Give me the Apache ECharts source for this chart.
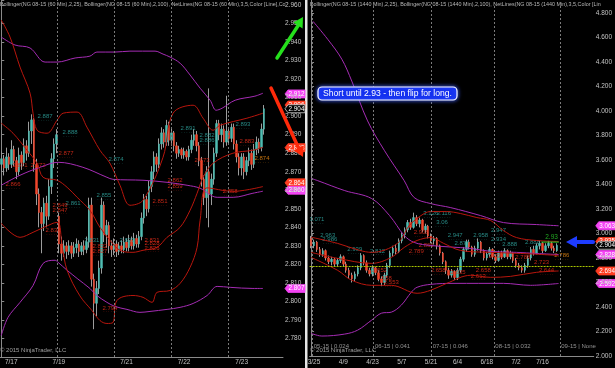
<!DOCTYPE html>
<html><head><meta charset="utf-8">
<script src="https://cdn.jsdelivr.net/npm/echarts/dist/echarts.min.js"></script>
<style>html,body{margin:0;padding:0;background:#000;}#c{width:615px;height:368px;}</style>
</head><body><div id="c"></div>
<script>
// ---------------- LEFT PANEL (60 min) ----------------
const leftTickIdx = [4, 23, 50, 73, 96];
const leftTickLabels = ['7/17', '7/19', '7/21', '7/22', '7/23'];
const leftSlots = 113;
const leftSessionBreaks = [22.3, 45.0, 67.8, 90.6];
// [open, close, low, high]
const leftOHLC = [
[2.874,2.877,2.870,2.881],[2.877,2.872,2.868,2.879],[2.872,2.878,2.870,2.883],[2.878,2.874,2.871,2.880],
[2.874,2.882,2.872,2.887],[2.882,2.876,2.873,2.884],[2.876,2.870,2.866,2.878],[2.870,2.879,2.868,2.883],
[2.879,2.875,2.871,2.881],[2.875,2.884,2.873,2.888],[2.884,2.880,2.876,2.887],[2.880,2.892,2.878,2.897],
[2.892,2.898,2.885,2.901],[2.898,2.874,2.870,2.899],[2.874,2.858,2.852,2.877],[2.858,2.848,2.840,2.861],
[2.848,2.842,2.826,2.851],[2.842,2.853,2.838,2.856],[2.853,2.846,2.840,2.857],[2.846,2.862,2.844,2.866],
[2.862,2.877,2.858,2.880],[2.877,2.885,2.872,2.888],[2.885,2.890,2.880,2.893],[2.846,2.831,2.826,2.848],
[2.831,2.826,2.822,2.835],[2.826,2.830,2.824,2.833],[2.830,2.827,2.823,2.832],[2.827,2.830,2.825,2.833],
[2.830,2.826,2.823,2.832],[2.826,2.829,2.824,2.832],[2.829,2.831,2.826,2.834],[2.831,2.827,2.824,2.833],
[2.827,2.830,2.825,2.832],[2.830,2.828,2.825,2.833],[2.828,2.832,2.826,2.835],[2.832,2.852,2.829,2.856],
[2.852,2.812,2.808,2.856],[2.812,2.799,2.785,2.815],[2.799,2.807,2.792,2.811],[2.807,2.818,2.804,2.822],
[2.818,2.852,2.815,2.856],[2.852,2.836,2.832,2.854],[2.836,2.841,2.829,2.844],[2.841,2.830,2.826,2.843],
[2.830,2.828,2.824,2.833],[2.828,2.831,2.825,2.834],[2.831,2.827,2.824,2.833],[2.827,2.830,2.825,2.832],
[2.830,2.828,2.826,2.833],[2.828,2.832,2.826,2.835],[2.832,2.829,2.827,2.834],[2.829,2.833,2.827,2.836],
[2.833,2.830,2.828,2.835],[2.830,2.834,2.828,2.837],[2.834,2.831,2.829,2.836],[2.831,2.835,2.829,2.838],
[2.835,2.845,2.833,2.848],[2.845,2.855,2.842,2.858],[2.855,2.850,2.846,2.857],[2.850,2.862,2.848,2.865],
[2.862,2.870,2.859,2.873],[2.870,2.878,2.866,2.881],[2.878,2.874,2.870,2.880],[2.874,2.885,2.872,2.888],
[2.885,2.891,2.882,2.894],[2.891,2.886,2.883,2.893],[2.886,2.895,2.884,2.898],[2.895,2.887,2.884,2.897],
[2.887,2.891,2.884,2.894],[2.891,2.884,2.881,2.892],[2.884,2.880,2.877,2.886],[2.880,2.882,2.878,2.884],
[2.882,2.879,2.877,2.883],[2.879,2.881,2.877,2.883],[2.881,2.878,2.876,2.882],[2.878,2.882,2.876,2.884],
[2.882,2.887,2.880,2.890],[2.887,2.890,2.884,2.893],[2.890,2.884,2.881,2.892],[2.884,2.876,2.873,2.886],
[2.876,2.866,2.862,2.878],[2.866,2.856,2.852,2.868],[2.856,2.870,2.845,2.873],[2.870,2.858,2.840,2.915],
[2.858,2.866,2.852,2.869],[2.866,2.880,2.863,2.883],[2.880,2.896,2.878,2.898],[2.896,2.890,2.887,2.898],
[2.890,2.893,2.886,2.896],[2.893,2.886,2.883,2.895],[2.886,2.892,2.884,2.911],[2.892,2.888,2.885,2.894],
[2.888,2.894,2.886,2.896],[2.894,2.885,2.882,2.896],[2.885,2.878,2.875,2.887],[2.878,2.872,2.868,2.880],
[2.872,2.878,2.868,2.880],[2.878,2.870,2.866,2.880],[2.870,2.876,2.868,2.878],[2.876,2.880,2.873,2.883],
[2.880,2.874,2.871,2.882],[2.874,2.882,2.872,2.885],[2.882,2.886,2.879,2.889],[2.886,2.883,2.880,2.888],
[2.883,2.893,2.881,2.896],[2.893,2.904,2.890,2.906]
];
// Bollinger (2,100) - purple, [barIndex, value]
const leftBB100Upper = [[0,2.9427],[5.5,2.9384],[11.5,2.9368],[17.5,2.9292],[22.3,2.9292],[29.5,2.9314],[35.4,2.9324],[38.2,2.9346],[45.4,2.9346],[51.4,2.9351],[61.4,2.9351],[64.6,2.9335],[67.4,2.9319],[71.4,2.9286],[75.4,2.9222],[79.4,2.9151],[83.4,2.9086],[85.8,2.9032],[88.2,2.9043],[93.4,2.9086],[101.3,2.9108],[104.5,2.9124]];
const leftBB100Mid = [[0,2.8627],[7.5,2.8681],[15.5,2.8724],[22.7,2.8751],[32.6,2.8724],[42.2,2.867],[44.6,2.8659],[56.6,2.8654],[66.2,2.8643],[74.2,2.8627],[79.4,2.8611],[86.2,2.8562],[92.6,2.8562],[100.5,2.8584],[104.5,2.8595]];
const leftBB100Lower = [[0,2.7816],[2.7,2.7914],[7.5,2.7995],[12.7,2.8086],[16.7,2.8205],[21.5,2.8222],[22.7,2.8211],[26.3,2.8168],[30.3,2.8124],[35.4,2.807],[38.2,2.8032],[42.2,2.7995],[45.4,2.7973],[50.2,2.7957],[55.4,2.7941],[59.4,2.7946],[66.2,2.7957],[71.4,2.7968],[76.6,2.7989],[82.2,2.8032],[86.2,2.8081],[91.4,2.8076],[100.5,2.807],[104.5,2.807]];
// Bollinger (2,25) - dark red
const leftBB25Upper = [[0,2.9519],[3.5,2.9427],[7.5,2.9265],[11.5,2.9124],[12.7,2.9016],[14.3,2.8924],[18.3,2.8908],[22.3,2.8978],[24.7,2.9016],[30.3,2.9022],[34.2,2.8941],[39.4,2.8816],[43.4,2.8746],[47.4,2.8627],[51.4,2.8519],[56.6,2.8546],[64.6,2.8778],[68.6,2.9016],[76.6,2.9059],[80.6,2.8989],[84.6,2.8924],[87.4,2.8951],[98.1,2.8989],[104.5,2.9016]];
const leftBB25Mid = [[0,2.8962],[4.7,2.8908],[10.3,2.8816],[14.3,2.8746],[16.7,2.867],[22.3,2.8654],[26.3,2.8616],[30.3,2.8562],[35.4,2.8492],[39.4,2.84],[43.4,2.833],[47.4,2.8276],[52.6,2.8265],[56.6,2.8276],[62.2,2.8292],[66.2,2.8346],[71.4,2.84],[75.4,2.8492],[78.2,2.8584],[80.6,2.867],[84.6,2.8746],[92.5,2.88],[100.5,2.8816],[104.5,2.8832]];
const leftBB25Lower = [[0,2.8422],[7.5,2.8346],[12.7,2.8373],[20.7,2.8422],[22.7,2.8427],[24.3,2.8303],[26.3,2.8168],[31.4,2.803],[36.2,2.7951],[39.4,2.7897],[42.2,2.7881],[44.6,2.7886],[46.2,2.8005],[52.6,2.8032],[56.6,2.8022],[60.2,2.7995],[62.2,2.8049],[67.4,2.8059],[71.4,2.8097],[75.4,2.8184],[78.2,2.8292],[79.4,2.8438],[82.2,2.8613],[92.5,2.8594],[104.5,2.862]];
// NetLines value notes [barIndex, value, text, kind]
const leftNotes = [
[17.5,2.8989,'2.887','t'],[27.5,2.8903,'2.888','t'],[45.8,2.8757,'2.874','t'],[41.0,2.8562,'2.855','t'],
[28.7,2.8519,'2.861','t'],[74.6,2.8924,'2.891','t'],[82.2,2.8886,'2.882','t'],[82.2,2.8859,'2.886','t'],
[96.5,2.8946,'2.893','t'],[36.2,2.8324,'2.831','t'],[50.2,2.8324,'2.831','t'],
[25.9,2.8789,'2.877','r'],[7.5,2.8729,'2.871','r'],[14.7,2.8729,'2.872','r'],[4.7,2.8622,'2.866','r'],
[23.5,2.8508,'2.849','r'],[23.5,2.8486,'2.847','r'],[20.7,2.8373,'2.838','r'],[63.4,2.8530,'2.851','r'],
[69.4,2.8643,'2.862','r'],[69.4,2.8611,'2.859','r'],[80.2,2.8751,'2.873','r'],[98.1,2.8854,'2.883','r'],
[91.4,2.8584,'2.858','r'],[43.4,2.7957,'2.794','r'],[39.4,2.8287,'2.832','r'],[39.4,2.826,'2.827','r'],
[60.2,2.8324,'2.831','r'],[60.2,2.8303,'2.828','r'],[60.2,2.8281,'2.826','r'],
[104.1,2.8762,'2.874','o']
];
const leftBoxValues = [2.912, 2.906, 2.904, 2.883, 2.864, 2.860, 2.807];
const leftBoxKinds  = ['m', 'r', 'k', 'r', 'r', 'm', 'm'];

// ---------------- RIGHT PANEL (daily) ----------------
const rightDates = ['3/24','3/25','3/26','3/27','3/30','3/31','4/1','4/2','4/6','4/7','4/8','4/9','4/10','4/13','4/14','4/15','4/16','4/17','4/20','4/21','4/22','4/23','4/24','4/27','4/28','4/29','4/30','5/1','5/4','5/5','5/6','5/7','5/8','5/11','5/12','5/13','5/14','5/15','5/18','5/19','5/20','5/21','5/22','5/26','5/27','5/28','5/29','6/1','6/2','6/3','6/4','6/5','6/8','6/9','6/10','6/11','6/12','6/15','6/16','6/17','6/18','6/19','6/22','6/23','6/24','6/25','6/26','6/29','6/30','7/1','7/2','7/6','7/7','7/8','7/9','7/10','7/13','7/14','7/15','7/16','7/17','7/20','7/21','7/22','7/23'];
const rightTickLabels = ['3/25','4/9','4/23','5/7','5/21','6/4','6/18','7/2','7/16'];
const rightSlots = 97;
const rightOHLC = [
[2.96,2.90,2.88,2.98],[2.90,2.93,2.88,2.95],[2.93,2.87,2.85,2.94],[2.87,2.83,2.81,2.89],[2.83,2.86,2.81,2.88],
[2.86,2.80,2.78,2.87],[2.80,2.77,2.75,2.82],[2.77,2.79,2.74,2.81],[2.79,2.75,2.73,2.80],[2.75,2.78,2.73,2.80],
[2.78,2.81,2.76,2.83],[2.81,2.75,2.73,2.82],[2.75,2.70,2.68,2.77],[2.70,2.66,2.63,2.72],[2.66,2.63,2.60,2.68],
[2.63,2.67,2.61,2.69],[2.67,2.72,2.65,2.74],[2.72,2.82,2.70,2.84],[2.82,2.76,2.74,2.83],[2.76,2.70,2.68,2.78],
[2.70,2.67,2.65,2.72],[2.67,2.72,2.65,2.74],[2.72,2.68,2.66,2.73],[2.68,2.63,2.61,2.70],[2.63,2.60,2.57,2.65],
[2.60,2.66,2.58,2.68],[2.66,2.74,2.64,2.76],[2.74,2.84,2.72,2.86],[2.84,2.88,2.81,2.90],[2.88,2.85,2.83,2.91],
[2.85,2.94,2.84,2.96],[2.94,2.99,2.92,3.01],[2.99,3.03,2.96,3.05],[3.03,3.09,3.01,3.11],[3.09,3.05,3.03,3.12],
[3.05,3.13,3.04,3.17],[3.13,3.08,3.06,3.15],[3.08,3.11,3.05,3.13],[3.11,3.03,3.01,3.12],[3.03,3.06,3.00,3.08],
[3.06,2.98,2.96,3.07],[2.98,2.94,2.92,3.00],[2.94,2.96,2.91,2.98],[2.96,2.90,2.87,2.97],[2.90,2.84,2.82,2.91],
[2.84,2.77,2.75,2.85],[2.77,2.70,2.67,2.78],[2.70,2.66,2.63,2.72],[2.66,2.69,2.64,2.71],[2.69,2.64,2.62,2.70],
[2.64,2.70,2.62,2.72],[2.70,2.79,2.68,2.81],[2.79,2.87,2.77,2.89],[2.87,2.93,2.85,2.95],[2.93,2.89,2.87,2.95],
[2.89,2.83,2.81,2.90],[2.83,2.88,2.81,2.90],[2.88,2.93,2.86,2.96],[2.93,2.86,2.84,2.94],[2.86,2.80,2.78,2.87],
[2.80,2.83,2.78,2.85],[2.83,2.87,2.81,2.89],[2.87,2.81,2.79,2.88],[2.81,2.78,2.76,2.83],[2.78,2.84,2.77,2.86],
[2.84,2.81,2.79,2.86],[2.81,2.86,2.80,2.88],[2.86,2.81,2.79,2.87],[2.81,2.84,2.79,2.86],[2.84,2.78,2.76,2.85],
[2.78,2.74,2.72,2.80],[2.74,2.72,2.70,2.76],[2.72,2.70,2.68,2.74],[2.70,2.74,2.68,2.76],[2.74,2.80,2.72,2.82],
[2.80,2.87,2.78,2.89],[2.87,2.84,2.82,2.90],[2.84,2.90,2.83,2.92],[2.90,2.92,2.87,2.94],[2.92,2.86,2.84,2.93],
[2.86,2.90,2.85,2.92],[2.90,2.92,2.88,2.94],[2.92,2.88,2.86,2.93],[2.88,2.86,2.84,2.90],[2.86,2.904,2.85,2.92]
];
const rightBB100Upper = [[0.65,4.732],[5.7,4.585],[10.5,4.423],[13.9,4.244],[19.3,3.919],[25.1,3.675],[31.8,3.431],[35.2,3.293],[40.9,3.244],[47.7,3.211],[57.9,3.146],[65.7,3.089],[76.9,3.073],[84.5,3.063]];
const rightBB100Mid = [[0,3.45],[2.3,3.431],[11.5,3.350],[20.7,3.285],[26.8,3.146],[31.8,2.984],[35.2,2.927],[40.9,2.902],[54.5,2.878],[61.3,2.854],[70.1,2.846],[76.9,2.837],[84.5,2.828]];
const rightBB100Lower = [[0,2.185],[0.65,2.179],[3.7,2.163],[11.5,2.179],[15.9,2.211],[20.7,2.293],[24.1,2.35],[27.4,2.358],[30.8,2.415],[34.2,2.520],[36.2,2.561],[40.9,2.585],[48.8,2.593],[65.7,2.593],[74.9,2.577],[84.5,2.592]];
const rightBB25Upper = [[0,2.97],[9.1,2.919],[16.6,2.862],[20.7,2.846],[29.5,2.919],[33.5,3.065],[38.6,3.163],[40.9,3.179],[46.3,3.179],[51.0,3.163],[56.6,3.130],[61.3,3.106],[65.7,3.024],[70.1,2.967],[76.9,2.943],[84.5,2.935]];
const rightBB25Mid = [[0,2.846],[9.1,2.797],[20.7,2.756],[27.4,2.805],[31.8,2.886],[36.2,2.943],[40.9,2.967],[45.3,2.919],[51.0,2.862],[61.3,2.846],[71.5,2.837],[84.5,2.821]];
const rightBB25Lower = [[0,2.805],[9.1,2.699],[13.9,2.618],[20.7,2.577],[27.4,2.577],[36.2,2.512],[40.9,2.537],[46.3,2.593],[54.5,2.659],[61.3,2.642],[68.1,2.650],[76.9,2.683],[84.5,2.694]];
const rightNotes = [
[2.0,3.106,'3.071','t'],[5.7,2.976,'2.963','t'],[6.4,2.943,'2.986','t'],[14.9,2.862,'2.939','t'],[22.7,2.846,'2.812','t'],
[40.9,3.154,'3.126','t'],[45.3,3.154,'3.116','t'],[44.7,3.081,'3.06','t'],[49.2,2.976,'2.947','t'],[51.5,2.911,'2.877','t'],
[57.9,2.976,'2.958','t'],[64.0,3.016,'2.947','t'],[64.0,2.943,'2.934','t'],[67.8,2.902,'2.888','t'],[75.6,2.919,'2.888','t'],
[37.6,3.000,'2.908','r'],[39.3,2.894,'2.865','r'],[35.9,2.846,'2.789','r'],[23.4,2.683,'2.652','r'],[25.0,2.618,'2.558','r'],
[27.4,2.585,'2.553','r'],[43.4,2.683,'2.658','r'],[50.2,2.667,'2.635','r'],[58.8,2.683,'2.658','r'],[57.1,2.642,'2.613','r'],
[78.7,2.756,'2.723','r'],[80.4,2.683,'2.644','r'],[63.2,2.805,'2.798','r'],[72.3,2.797,'2.788','r'],
[85.6,2.813,'2.786','o']
];
const rightBoxValues = [3.063, 2.935, 2.904, 2.828, 2.694, 2.592];
const rightBoxKinds  = ['m', 'r', 'k', 'm', 'r', 'm'];
const rightRolls = [0.4, 21.3, 41.0, 62.4, 84.9];
const rightRollLabels = ['05-15 | 0.024', '06-15 | 0.041', '07-15 | 0.046', '08-15 | 0.032', '09-15 | None'];
const rightTargetLevel = 2.93;
const rightTargetSpan = [78.6, 84.6];
const rightSupportLevel = 2.732;

// ---------------- styling ----------------
const FONT = '"Liberation Sans", Arial, sans-serif';
const UP = '#4fbdb2', DOWN = '#f0472c', WICK = '#9c9c9c';
const PURPLE = '#a52cb4', DRED = '#b8160d';
const CLEAR = 'rgba(0,0,0,0)';
const NOTE_COLORS = {t: '#2fa9a2', r: '#f0301c', o: '#f08c10'};
const BOX = {
  m: {bg: '#f444f4', fg: '#ffffff', bd: '#f444f4'},
  r: {bg: '#ff3d22', fg: '#ffffff', bd: '#ff3d22'},
  k: {bg: '#000000', fg: '#ffffff', bd: '#d0d0d0'}
};

const chart = echarts.init(document.getElementById('c'));

function bodies(ohlc) { return ohlc.map(d => [d[0], d[1], Math.min(d[0], d[1]), Math.max(d[0], d[1])]); }
function candleSeries(ohlc, xi, yi, w) {
  return [
    {type: 'candlestick', xAxisIndex: xi, yAxisIndex: yi, data: ohlc, barWidth: 1, silent: true,
     itemStyle: {color: WICK, color0: WICK, borderColor: WICK, borderColor0: WICK, borderWidth: 1}},
    {type: 'candlestick', xAxisIndex: xi, yAxisIndex: yi, data: bodies(ohlc), barWidth: w, silent: true,
     itemStyle: {color: UP, color0: DOWN, borderColor: UP, borderColor0: DOWN, borderWidth: 0.5}}
  ];
}
function band(data, color, xi, yi, extra) {
  return Object.assign({type: 'line', xAxisIndex: xi, yAxisIndex: yi, data: data, smooth: 0.35, symbol: 'none',
    silent: true, clip: true, lineStyle: {color: color, width: 1}}, extra || {});
}
function notes(list, xi, yi) {
  return {type: 'scatter', xAxisIndex: xi, yAxisIndex: yi, symbolSize: 1, itemStyle: {color: CLEAR}, silent: true,
    labelLayout: {hideOverlap: false},
    data: list.map(n => ({value: [n[0], n[1]], name: n[2],
      label: {show: true, position: 'inside', fontFamily: FONT,
        formatter: '{a|' + n[2] + '}\n{b|· · · · · ·}',
        rich: {a: {color: NOTE_COLORS[n[3]], fontSize: 6, lineHeight: 6, fontFamily: FONT},
               b: {color: NOTE_COLORS[n[3]], fontSize: 4, lineHeight: 3, fontFamily: FONT}}}}))};
}
const vline = x => ({xAxis: x, lineStyle: {color: '#7a7a7a', type: [2, 2], width: 1}, label: {show: false}});

const axisLabelStyle = {color: '#c4c4c4', fontSize: 6.5, fontFamily: FONT};

const baseGraphic = [
  {type: 'rect', shape: {x: 305, y: 0, width: 2.5, height: 368}, style: {fill: '#e6e6e6'}, silent: true},
  {type: 'text', left: 0, top: 2, style: {text: 'Bollinger(NG 08-15 (60 Min),2,25), Bollinger(NG 08-15 (60 Min),2,100), NetLines(NG 08-15 (60 Min),3,5,Color [Line],Co',
    fill: '#b8b8b8', font: '5.4px ' + FONT}},
  {type: 'text', left: 310, top: 2, style: {text: 'Bollinger(NG 08-15 (1440 Min),2,25), Bollinger(NG 08-15 (1440 Min),2,100), NetLines(NG 08-15 (1440 Min),3,5,Color [Lin',
    fill: '#b8b8b8', font: '5.4px ' + FONT}},
  {type: 'text', left: 0, top: 347, style: {text: '© 2015 NinjaTrader, LLC', fill: '#a0a0a0', font: '6px ' + FONT}},
  {type: 'text', left: 310, top: 347, style: {text: '© 2015 NinjaTrader, LLC', fill: '#a0a0a0', font: '6px ' + FONT}},
  // green arrow
  {type: 'line', shape: {x1: 277, y1: 58, x2: 298.5, y2: 25}, style: {stroke: '#25e01c', lineWidth: 3.5, lineCap: 'round'}, z: 50},
  {type: 'polygon', shape: {points: [[303, 17], [302.6, 28.6], [293.4, 22.6]]}, style: {fill: '#25e01c'}, z: 50},
  // red arrow
  {type: 'line', shape: {x1: 271, y1: 88, x2: 299, y2: 149}, style: {stroke: '#ff2a0a', lineWidth: 3.5, lineCap: 'round'}, z: 50},
  {type: 'polygon', shape: {points: [[303, 157], [293.8, 150.2], [303.8, 145.6]]}, style: {fill: '#ff2a0a'}, z: 50},
  // blue arrow
  {type: 'line', shape: {x1: 593, y1: 242, x2: 575, y2: 242}, style: {stroke: '#1e3cff', lineWidth: 4, lineCap: 'round'}, z: 50},
  {type: 'polygon', shape: {points: [[566, 242], [577, 236], [577, 248]]}, style: {fill: '#1e3cff'}, z: 50},
  // text box
  {type: 'rect', shape: {x: 318, y: 87, width: 139, height: 13, r: 4},
   style: {fill: '#1430f0', stroke: '#ffffff', lineWidth: 1.2, shadowBlur: 4, shadowColor: '#4060ff'}, z: 50},
  {type: 'text', x: 387.5, y: 93.8, style: {text: 'Short until 2.93 - then flip for long.', fill: '#ffffff',
    font: '8.6px ' + FONT, textAlign: 'center', textVerticalAlign: 'middle'}, z: 51}
];

const option = {
  backgroundColor: '#000',
  animation: false,
  grid: [
    {left: 0, top: 0, width: 283, height: 357},
    {left: 309.6, top: 0, width: 285.4, height: 356}
  ],
  xAxis: [
    {type: 'category', gridIndex: 0, data: Array.from({length: leftSlots}, (_, i) => 'L' + i), boundaryGap: true,
     axisLine: {lineStyle: {color: '#8a8a8a'}},
     axisTick: {alignWithLabel: true, length: 3, lineStyle: {color: '#8a8a8a'}, interval: (i) => leftTickIdx.includes(i)},
     axisLabel: Object.assign({margin: 2, interval: (i) => leftTickIdx.includes(i),
       formatter: (v, i) => { const k = leftTickIdx.indexOf(i); return k >= 0 ? leftTickLabels[k] : ''; }}, axisLabelStyle),
     splitLine: {show: false}},
    {type: 'value', gridIndex: 0, min: -0.5, max: leftSlots - 0.5, show: false},
    {type: 'category', gridIndex: 1, data: rightDates.concat(Array.from({length: rightSlots - rightDates.length}, (_, k) => 'E' + k)),
     boundaryGap: true,
     axisLine: {lineStyle: {color: '#8a8a8a'}},
     axisTick: {alignWithLabel: true, length: 2, interval: 0, lineStyle: {color: '#8a8a8a'}},
     axisLabel: Object.assign({margin: 3, interval: (i, v) => rightTickLabels.includes(v), formatter: v => v}, axisLabelStyle),
     splitLine: {show: false}},
    {type: 'value', gridIndex: 1, min: -0.5, max: rightSlots - 0.5, show: false}
  ],
  yAxis: [
    {type: 'value', gridIndex: 0, position: 'right', min: 2.77, max: 2.9627, interval: 0.01, scale: true,
     axisLine: {show: true, lineStyle: {color: '#8a8a8a'}},
     axisTick: {show: true, length: 3, lineStyle: {color: '#8a8a8a'}},
     axisLabel: Object.assign({margin: 2, showMaxLabel: true, showMinLabel: false,
       formatter: v => (v > 2.775 && v < 2.9615) ? v.toFixed(3) : ''}, axisLabelStyle),
     splitLine: {show: false}},
    {type: 'value', gridIndex: 1, position: 'right', min: 2.0, max: 4.906, interval: 0.2, scale: true,
     axisLine: {show: true, lineStyle: {color: '#8a8a8a'}},
     axisTick: {show: true, length: 3, lineStyle: {color: '#8a8a8a'}},
     axisLabel: Object.assign({margin: 2, showMaxLabel: false,
       formatter: v => (v < 4.85) ? v.toFixed(3) : ''}, axisLabelStyle),
     splitLine: {show: false}}
  ],
  series: [
    // left panel
    band(leftBB100Upper, PURPLE, 1, 0),
    band(leftBB100Mid, PURPLE, 1, 0),
    band(leftBB100Lower, PURPLE, 1, 0, {markLine: {silent: true, symbol: ['none', 'none'], animation: false,
      data: leftSessionBreaks.map(vline)}}),
    band(leftBB25Upper, DRED, 1, 0),
    band(leftBB25Mid, DRED, 1, 0),
    band(leftBB25Lower, DRED, 1, 0),
    ...candleSeries(leftOHLC, 0, 0, 2),
    notes(leftNotes, 1, 0),
    // right panel
    band(rightBB100Upper, PURPLE, 3, 1),
    band(rightBB100Mid, PURPLE, 3, 1),
    band(rightBB100Lower, PURPLE, 3, 1, {markLine: {silent: true, symbol: ['none', 'none'], animation: false,
      data: rightRolls.map(vline).concat([{yAxis: rightSupportLevel, lineStyle: {color: '#a8c400', type: [2, 1], width: 1}, label: {show: false}}])}}),
    band(rightBB25Upper, DRED, 3, 1),
    band(rightBB25Mid, DRED, 3, 1),
    band(rightBB25Lower, DRED, 3, 1),
    ...candleSeries(rightOHLC, 2, 1, 2),
    {type: 'line', xAxisIndex: 3, yAxisIndex: 1, data: rightTargetSpan.map(x => [x, rightTargetLevel]), symbol: 'none',
     silent: true, lineStyle: {color: '#2ad02a', width: 1}},
    {type: 'scatter', xAxisIndex: 3, yAxisIndex: 1, symbolSize: 1, itemStyle: {color: CLEAR}, silent: true,
     data: [{value: [(rightTargetSpan[0] + rightTargetSpan[1]) / 2 + 0.5, rightTargetLevel], name: '2.93'}],
     label: {show: true, position: 'top', distance: 1, formatter: '{b}', color: '#2ad02a', fontSize: 6.5, fontFamily: FONT}},
    notes(rightNotes, 3, 1),
    {type: 'scatter', xAxisIndex: 3, yAxisIndex: 1, symbolSize: 1, itemStyle: {color: CLEAR}, silent: true,
     data: rightRolls.map((x, k) => ({value: [x, 2.081], name: rightRollLabels[k]})),
     label: {show: true, position: 'right', distance: 1, formatter: '{b}', color: '#b4b4b4', fontSize: 6, fontFamily: FONT}}
  ],
  graphic: baseGraphic
};
chart.setOption(option);

// price markers on the value axes, placed through the library's own scales
function priceMarkers(vals, kinds, xAxisIndex, yAxisIndex, xEnd) {
  const x0 = chart.convertToPixel({xAxisIndex: xAxisIndex}, xEnd) + 2;
  return vals.map((v, k) => {
    const s = BOX[kinds[k]];
    const y = chart.convertToPixel({yAxisIndex: yAxisIndex}, v);
    return {type: 'group', x: x0, y: y, z: 40, children: [
      {type: 'polygon', shape: {points: [[0, 0], [3, -4], [20, -4], [20, 4], [3, 4]]},
       style: {fill: s.bg, stroke: s.bd, lineWidth: 0.8}},
      {type: 'text', x: 11.5, y: 0.3, style: {text: v.toFixed(3), fill: s.fg, font: '6.3px ' + FONT,
        textAlign: 'center', textVerticalAlign: 'middle'}}
    ]};
  });
}
chart.setOption({graphic: baseGraphic
  .concat(priceMarkers(leftBoxValues, leftBoxKinds, 1, 0, leftSlots - 0.5))
  .concat(priceMarkers(rightBoxValues, rightBoxKinds, 3, 1, rightSlots - 0.5))});
</script></body></html>
